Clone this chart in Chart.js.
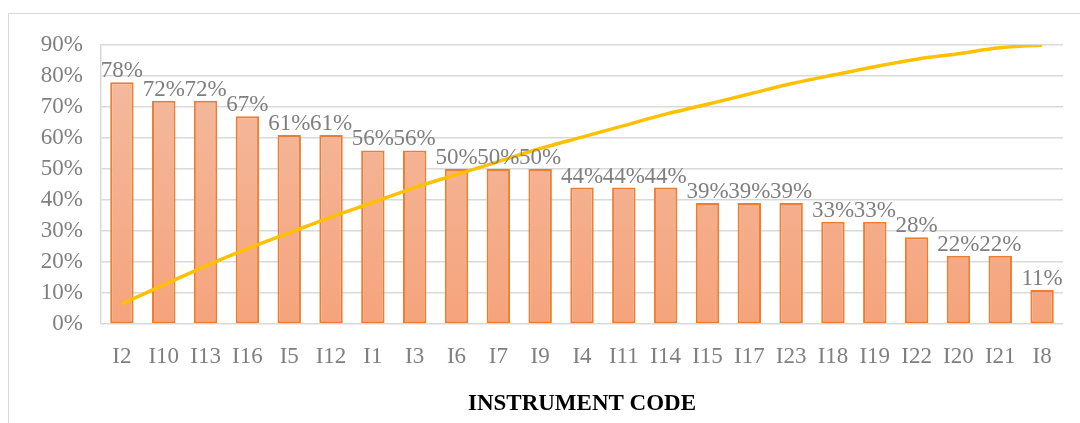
<!DOCTYPE html>
<html>
<head>
<meta charset="utf-8">
<script src="https://cdn.jsdelivr.net/npm/chart.js@4/dist/chart.umd.min.js"></script>
<style>
  html, body { margin: 0; padding: 0; background: #fff; }
  #wrap { position: relative; width: 1080px; height: 423px; overflow: hidden; }
  #frame { position: absolute; left: 8px; top: 13px; width: 1200px; height: 600px; border: 1.5px solid #d9d9d9; }
  #chart { position: absolute; left: 0; top: 0; }
</style>
</head>
<body>
<div id="wrap">
  <div id="frame"></div>
  <canvas id="chart" width="1080" height="423"></canvas>
</div>
<script>
const codes = ["I2", "I10", "I13", "I16", "I5", "I12", "I1", "I3", "I6", "I7", "I9", "I4", "I11", "I14", "I15", "I17", "I23", "I18", "I19", "I22", "I20", "I21", "I8"]
const scores = [78, 72, 72, 67, 61, 61, 56, 56, 50, 50, 50, 44, 44, 44, 39, 39, 39, 33, 33, 28, 22, 22, 11]
const cumulative = [6.5, 12.6, 18.7, 24.3, 29.4, 34.5, 39.2, 44.0, 48.2, 52.4, 56.6, 60.3, 64.0, 67.7, 70.9, 74.2, 77.5, 80.3, 83.0, 85.4, 87.2, 89.1, 90.0]

const serif = "'Liberation Serif', 'Times New Roman', serif"
const grey = '#7f7f7f'

// value labels above the bars
const barLabels = {
    id: 'barLabels',
    afterDatasetsDraw(chart) {
        const ctx = chart.ctx
        const meta = chart.getDatasetMeta(0)
        ctx.save()
        ctx.font = '23px ' + serif
        ctx.fillStyle = grey
        ctx.textAlign = 'center'
        ctx.textBaseline = 'alphabetic'
        meta.data.forEach(function (bar, i) {
            ctx.fillText(scores[i] + '%', bar.x, bar.y - 5)
        })
        ctx.restore()
    }
}

function barFill(context) {
    const area = context.chart.chartArea
    if (!area) return '#F4AE8E'
    const g = context.chart.ctx.createLinearGradient(0, area.top, 0, area.bottom)
    g.addColorStop(0, '#F4BCA2')
    g.addColorStop(1, '#F5A47C')
    return g
}

new Chart('chart', {
    data: {
        labels: codes,
        datasets: [
            {
                type: 'bar',
                data: scores,
                backgroundColor: barFill,
                borderColor: '#ED7D31',
                borderWidth: 2,
                borderSkipped: false,
                categoryPercentage: 1,
                barPercentage: 0.56,
                order: 1
            },
            {
                type: 'line',
                data: cumulative,
                borderColor: '#FFC000',
                borderWidth: 3.5,
                pointRadius: 0,
                tension: 0.4,
                fill: false,
                order: 0
            }
        ]
    },
    options: {
        responsive: false,
        animation: false,
        layout: { padding: { top: 45, right: 17, bottom: 0, left: 0 } },
        plugins: {
            legend: { display: false },
            tooltip: { enabled: false }
        },
        scales: {
            x: {
                grid: { display: false, drawTicks: false },
                border: { display: false },
                ticks: { color: grey, font: { family: serif, size: 23 }, padding: 19, maxRotation: 0, autoSkip: false },
                title: {
                    display: true,
                    text: 'INSTRUMENT CODE',
                    color: '#000',
                    font: { family: serif, size: 23, weight: 'bold' },
                    padding: { top: 0, bottom: 5 }
                },
                afterFit(axis) { axis.height = 99 }
            },
            y: {
                min: 0,
                max: 90,
                grid: { color: '#d9d9d9', lineWidth: 1.5, drawTicks: false },
                border: { display: true, color: '#d9d9d9', width: 1.5 },
                ticks: {
                    stepSize: 10,
                    color: grey,
                    font: { family: serif, size: 23 },
                    padding: 18,
                    callback: function (v) { return v + '%' }
                },
                afterFit(axis) { axis.width = 101 }
            }
        }
    },
    plugins: [barLabels]
})
</script>
</body>
</html>
